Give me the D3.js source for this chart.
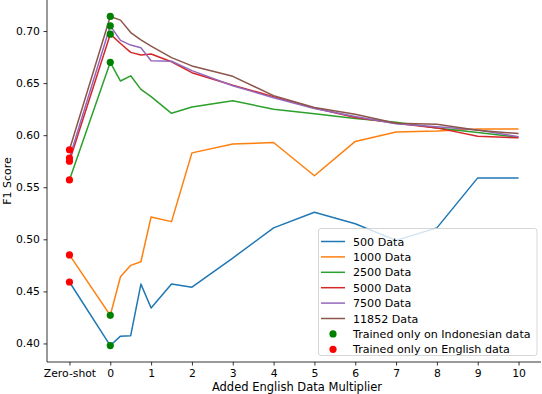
<!DOCTYPE html>
<html>
<head>
<meta charset="utf-8">
<script src="https://cdn.jsdelivr.net/npm/d3@7.9.0/dist/d3.min.js"></script>
<style>
  body { margin: 0; background: #fff; }
  svg { font-family: "DejaVu Sans", sans-serif; }
</style>
</head>
<body>
<svg id="chart" width="542" height="394"></svg>
<script>
// Added English data multiplier (0 = trained only on Indonesian)
const multipliers = [0, 0.25, 0.5, 0.75, 1, 1.5, 2, 3, 4, 5, 6, 7, 8, 9, 10];
const seriesNames = ["500 Data", "1000 Data", "2500 Data", "5000 Data", "7500 Data", "11852 Data"];

// zero-shot score (trained only on English data)
const zeroShot = [0.459, 0.485, 0.557, 0.575, 0.578, 0.586];

const f500   = [0.398, 0.407, 0.4075, 0.457, 0.434, 0.457, 0.454, 0.482, 0.511, 0.526, 0.515, 0.499, 0.511, 0.559, 0.559];
const f1000  = [0.427, 0.464, 0.475, 0.4785, 0.5215, 0.517, 0.583, 0.5915, 0.593, 0.561, 0.594, 0.603, 0.604, 0.606, 0.606];
const f2500  = [0.670, 0.652, 0.657, 0.644, 0.637, 0.621, 0.627, 0.633, 0.625, 0.6205, 0.616, 0.6125, 0.607, 0.6025, 0.598];
const f5000  = [0.697, 0.688, 0.6795, 0.677, 0.678, 0.6705, 0.660, 0.648, 0.637, 0.626, 0.617, 0.6115, 0.607, 0.599, 0.5975];
const f7500  = [0.705, 0.691, 0.6865, 0.684, 0.6715, 0.671, 0.662, 0.6475, 0.636, 0.6257, 0.618, 0.611, 0.608, 0.605, 0.5985];
const f11852 = [0.714, 0.7105, 0.6985, 0.6915, 0.6855, 0.6745, 0.6665, 0.6565, 0.638, 0.6266, 0.620, 0.6115, 0.6105, 0.6048, 0.6015];

const allSeries = [f500, f1000, f2500, f5000, f7500, f11852];
const colors = ["#1f77b4", "#ff7f0e", "#2ca02c", "#d62728", "#9467bd", "#8c564b"];

const xTicks = [-1, 0, 1, 2, 3, 4, 5, 6, 7, 8, 9, 10];

const svg = d3.select("#chart");
const margin = { left: 47, right: 1, top: 0, bottom: 32 };
const width = 542 - margin.left - margin.right;
const height = 394 - margin.top - margin.bottom;

const g = svg.append("g").attr("transform", `translate(${margin.left},${margin.top})`);

// matplotlib-like 5% padding
const xMin = -1, xMax = 10;
const xPad = (xMax - xMin) * 0.05;
const x = d3.scaleLinear().domain([xMin - xPad, xMax + xPad]).range([0, width]);

const allVals = allSeries.flat().concat(zeroShot);
const yLo = d3.min(allVals), yHi = d3.max(allVals);
const yPad = (yHi - yLo) * 0.05;
const y = d3.scaleLinear().domain([yLo - yPad, yHi + yPad]).range([height, 0]);

// axes
const xAxis = d3.axisBottom(x)
  .tickValues(xTicks)
  .tickSize(3.5)
  .tickPadding(3.5)
  .tickFormat(d => d === -1 ? "Zero-shot" : d);
const yAxis = d3.axisLeft(y)
  .tickValues([0.40, 0.45, 0.50, 0.55, 0.60, 0.65, 0.70])
  .tickSize(3.5)
  .tickPadding(3.5)
  .tickFormat(d3.format(".2f"));

const gx = g.append("g").attr("transform", `translate(0,${height})`).call(xAxis);
const gy = g.append("g").call(yAxis);
[gx, gy].forEach(a => {
  a.selectAll("text").attr("font-size", 10.8).attr("fill", "#000").attr("font-family", "DejaVu Sans");
  a.selectAll("line").attr("stroke", "#000").attr("stroke-width", 0.8);
  a.select(".domain").attr("stroke", "#000").attr("stroke-width", 0.8);
});
gx.select(".domain").attr("d", `M0,0H${width}`);
gy.select(".domain").attr("d", `M0,${height}V0`);

// lines
const line = d3.line().x(d => x(d[0])).y(d => y(d[1]));
allSeries.forEach((s, i) => {
  const pts = [[-1, zeroShot[i]]].concat(multipliers.map((m, j) => [m, s[j]]));
  g.append("path")
    .attr("d", line(pts))
    .attr("fill", "none")
    .attr("stroke", colors[i])
    .attr("stroke-width", 1.5)
    .attr("stroke-linejoin", "round");
});

// Indonesian-only points (multiplier 0) and English-only points (zero-shot)
allSeries.forEach((s, i) => {
  g.append("circle").attr("cx", x(0)).attr("cy", y(s[0])).attr("r", 3.6).attr("fill", "green");
});
zeroShot.forEach(v => {
  g.append("circle").attr("cx", x(-1)).attr("cy", y(v)).attr("r", 3.6).attr("fill", "red");
});

// axis labels
svg.append("text")
  .attr("x", 297)
  .attr("y", 391)
  .attr("text-anchor", "middle")
  .attr("font-size", 11.5)
  .text("Added English Data Multiplier");
svg.append("text")
  .attr("transform", `translate(11,181) rotate(-90)`)
  .attr("text-anchor", "middle")
  .attr("font-size", 11)
  .text("F1 Score");

// legend
const lg = svg.append("g").attr("transform", "translate(318.5,228.5)");
lg.append("rect")
  .attr("width", 218.5).attr("height", 127)
  .attr("rx", 2.5)
  .attr("fill", "#fff").attr("fill-opacity", 0.8)
  .attr("stroke", "#cccccc").attr("stroke-width", 0.8);

const legendItems = seriesNames.map((n, i) => ({ label: n, color: colors[i], kind: "line" }))
  .concat([
    { label: "Trained only on Indonesian data", color: "green", kind: "dot" },
    { label: "Trained only on English data", color: "red", kind: "dot" }
  ]);
const rowH = 15.4;
legendItems.forEach((d, i) => {
  const cy = 13 + i * rowH;
  if (d.kind === "line") {
    lg.append("line").attr("x1", 2.5).attr("x2", 26.5).attr("y1", cy).attr("y2", cy)
      .attr("stroke", d.color).attr("stroke-width", 1.5);
  } else {
    lg.append("circle").attr("cx", 14.5).attr("cy", cy).attr("r", 3.6).attr("fill", d.color);
  }
  lg.append("text").attr("x", 34.5).attr("y", cy + 4).attr("font-size", 11.1).text(d.label);
});
</script>
</body>
</html>
